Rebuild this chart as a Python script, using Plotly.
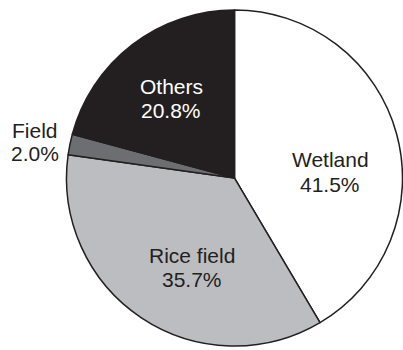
import plotly.graph_objects as go

labels = ["Wetland", "Rice field", "Field", "Others"]
values = [41.5, 35.7, 2.0, 20.8]
colors = ["#ffffff", "#bcbdc0", "#6d6e71", "#231f20"]
text_colors = ["#231f20", "#231f20", "#231f20", "#ffffff"]

W, H = 403.0, 350.0
# label placement (pixel centres of the name line); value line sits 24 px below
label_pos = {
    "Wetland": (330, 160),
    "Rice field": (192, 255),
    "Field": (35, 130),
    "Others": (171, 86),
}
LINE_GAP = 24
FONT = "Liberation Sans, Arial, sans-serif"

fig = go.Figure(go.Pie(
    labels=labels,
    values=values,
    sort=False,
    direction="clockwise",
    rotation=0,
    marker=dict(colors=colors, line=dict(color="#231f20", width=1.5)),
    textinfo="none",
    domain=dict(x=[0.1638, 1.0], y=[0.0114, 0.9714]),
    showlegend=False,
    hoverinfo="label+percent",
))

annotations = []
for lab, val, tc in zip(labels, values, text_colors):
    px, py = label_pos[lab]
    for k, txt in enumerate([lab, f"{val:.1f}%"]):
        annotations.append(dict(
            text=txt,
            xref="paper", yref="paper",
            x=px / W, y=1 - (py + k * LINE_GAP) / H,
            xanchor="center", yanchor="middle",
            showarrow=False,
            font=dict(family=FONT, size=21, color=tc),
        ))

fig.update_layout(
    autosize=True,
    margin=dict(l=0, r=0, t=0, b=0),
    paper_bgcolor="white",
    plot_bgcolor="white",
    annotations=annotations,
)

post = (
    "var s=document.createElement('style');"
    "s.innerHTML='html,body{margin:0;padding:0;overflow:hidden;}';"
    "document.head.appendChild(s);"
    "Plotly.Plots.resize(document.getElementById('{plot_id}'));"
)

fig.write_html(
    "out.html",
    config={"displayModeBar": False, "responsive": True},
    default_width="100vw",
    default_height="100vh",
    post_script=post,
)
